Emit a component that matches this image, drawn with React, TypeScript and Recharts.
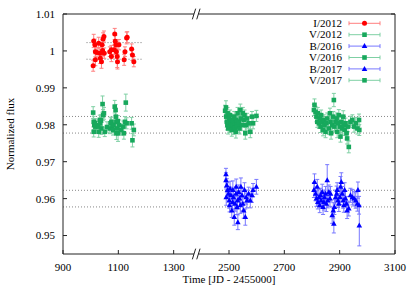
import React from "react";
import { ScatterChart, Scatter, XAxis, YAxis, ErrorBar, ReferenceLine } from "recharts";

// [JD - 2455000, normalized flux, error]
type Obs = [number, number, number];

const I2012: Obs[] = [
  [1009, 0.996, 0.0015], [1011, 1.0027, 0.0018], [1015, 1.0017, 0.0015], [1017, 0.9998, 0.0014],
  [1017, 0.9976, 0.0016], [1023, 0.9996, 0.0013], [1029, 1.0021, 0.0016], [1033, 0.9994, 0.0015],
  [1035, 0.998, 0.0014], [1039, 0.9971, 0.0018], [1041, 1.0017, 0.0013], [1043, 1.0001, 0.0015],
  [1045, 1.0032, 0.0017], [1048, 1.0039, 0.0015], [1049, 0.9994, 0.0014], [1069, 0.9998, 0.0013],
  [1075, 1.0003, 0.0012], [1075, 0.9985, 0.0014], [1085, 1.0003, 0.0013], [1087, 1.0046, 0.0015],
  [1089, 1.0026, 0.0016], [1091, 1.0017, 0.0014], [1093, 0.9998, 0.0018], [1096, 0.9985, 0.003],
  [1097, 0.9971, 0.002], [1102, 1.0017, 0.0014], [1121, 0.9976, 0.0015], [1124, 0.9998, 0.0013],
  [1130, 1.0035, 0.0016], [1132, 1.0037, 0.0015], [1148, 1.0005, 0.0014], [1151, 0.9989, 0.0015],
  [1156, 0.9971, 0.0014],
];

const V2012: Obs[] = [
  [1009, 0.9833, 0.0016], [1011, 0.9808, 0.0015], [1011, 0.9781, 0.0014], [1013, 0.98, 0.0013],
  [1015, 0.9804, 0.0013], [1017, 0.9795, 0.0015], [1021, 0.9799, 0.0014], [1027, 0.9795, 0.0014],
  [1029, 0.9781, 0.0015], [1033, 0.9813, 0.0013], [1035, 0.9804, 0.0014], [1037, 0.9812, 0.0015],
  [1039, 0.979, 0.0016], [1043, 0.9856, 0.0022], [1045, 0.9826, 0.0015], [1048, 0.9831, 0.0016],
  [1051, 0.9781, 0.0013], [1059, 0.9794, 0.0014], [1069, 0.979, 0.0014], [1072, 0.9804, 0.0015],
  [1075, 0.9808, 0.0013], [1079, 0.9795, 0.0016], [1081, 0.9786, 0.0014], [1083, 0.98, 0.0013],
  [1087, 0.9849, 0.0017], [1090, 0.984, 0.0015], [1091, 0.9822, 0.0014], [1093, 0.9808, 0.0013],
  [1093, 0.9777, 0.0017], [1096, 0.979, 0.0015], [1098, 0.981, 0.0015], [1099, 0.9777, 0.0022],
  [1103, 0.9799, 0.0014], [1110, 0.9786, 0.0014], [1118, 0.9795, 0.0015], [1120, 0.9777, 0.0016],
  [1124, 0.9808, 0.0014], [1127, 0.986, 0.0023], [1130, 0.9804, 0.0015], [1148, 0.9804, 0.0016],
  [1151, 0.9758, 0.0018], [1156, 0.9786, 0.0016],
];

const B2016: Obs[] = [
  [2489, 0.9666, 0.0016], [2489, 0.965, 0.002], [2490, 0.9604, 0.0022], [2492, 0.9636, 0.0018],
  [2495, 0.9623, 0.002], [2498, 0.9613, 0.0019], [2501, 0.9595, 0.0021], [2502, 0.9582, 0.0018],
  [2504, 0.9627, 0.002], [2507, 0.9609, 0.0022], [2510, 0.9568, 0.0019], [2513, 0.9591, 0.002],
  [2514, 0.9623, 0.0025], [2516, 0.9604, 0.0021], [2519, 0.955, 0.0022], [2522, 0.9586, 0.002],
  [2525, 0.9613, 0.0019], [2526, 0.9632, 0.0021], [2529, 0.9577, 0.002], [2531, 0.9595, 0.0024],
  [2532, 0.9536, 0.002], [2535, 0.9618, 0.0019], [2538, 0.96, 0.0021], [2541, 0.9582, 0.0022],
  [2543, 0.9632, 0.0024], [2547, 0.9609, 0.002], [2550, 0.9586, 0.0019], [2553, 0.9568, 0.0021],
  [2556, 0.9623, 0.002], [2559, 0.955, 0.0022], [2562, 0.9604, 0.0019], [2565, 0.9595, 0.002],
  [2571, 0.9613, 0.0018], [2577, 0.9595, 0.002], [2583, 0.9609, 0.0019], [2587, 0.9623, 0.0018],
  [2599, 0.9632, 0.002],
];

const V2016: Obs[] = [
  [2486, 0.9838, 0.0015], [2489, 0.9847, 0.0018], [2490, 0.9822, 0.0014], [2492, 0.9808, 0.0015],
  [2494, 0.98, 0.0014], [2495, 0.9831, 0.0016], [2497, 0.979, 0.0015], [2498, 0.9804, 0.0014],
  [2501, 0.9817, 0.0015], [2502, 0.9795, 0.0016], [2504, 0.9826, 0.0014], [2506, 0.9796, 0.0014],
  [2507, 0.9808, 0.0015], [2510, 0.9786, 0.0017], [2511, 0.9802, 0.0015], [2513, 0.9813, 0.0014],
  [2514, 0.9799, 0.0015], [2516, 0.979, 0.0016], [2517, 0.981, 0.0014], [2519, 0.9822, 0.0014],
  [2521, 0.9792, 0.0016], [2522, 0.9804, 0.0015], [2525, 0.9781, 0.0017], [2526, 0.9813, 0.0014],
  [2528, 0.9808, 0.0015], [2529, 0.9795, 0.0015], [2531, 0.9831, 0.0016], [2533, 0.98, 0.0014],
  [2535, 0.9808, 0.0014], [2538, 0.979, 0.0015], [2541, 0.984, 0.0016], [2543, 0.9817, 0.0014],
  [2547, 0.9799, 0.0015], [2550, 0.9831, 0.0016], [2553, 0.9813, 0.0015], [2556, 0.9826, 0.0014],
  [2559, 0.9777, 0.0016], [2562, 0.9799, 0.0015], [2565, 0.9817, 0.0014], [2571, 0.9804, 0.0015],
  [2577, 0.9781, 0.0016], [2583, 0.9822, 0.0014], [2587, 0.9804, 0.0015], [2599, 0.9824, 0.0015],
];

const B2017: Obs[] = [
  [2807, 0.9623, 0.002], [2809, 0.9645, 0.0022], [2813, 0.9613, 0.0019], [2816, 0.96, 0.0021],
  [2819, 0.9632, 0.002], [2821, 0.9591, 0.0019], [2825, 0.9604, 0.0021], [2828, 0.9582, 0.002],
  [2831, 0.9609, 0.0019], [2833, 0.9595, 0.002], [2837, 0.9618, 0.0021], [2840, 0.9577, 0.002],
  [2843, 0.9591, 0.0022], [2845, 0.9604, 0.0019], [2849, 0.9613, 0.002], [2852, 0.9586, 0.0021],
  [2855, 0.965, 0.0042], [2857, 0.9595, 0.002], [2861, 0.9618, 0.0019], [2865, 0.96, 0.0021],
  [2867, 0.9613, 0.002], [2873, 0.9555, 0.0022], [2877, 0.9568, 0.0021], [2879, 0.9532, 0.0025],
  [2881, 0.9577, 0.002], [2885, 0.9604, 0.0019], [2889, 0.9613, 0.0021], [2891, 0.9623, 0.002],
  [2894, 0.9595, 0.0019], [2897, 0.9586, 0.0021], [2901, 0.9604, 0.002], [2903, 0.9632, 0.0028],
  [2906, 0.9645, 0.0025], [2909, 0.9613, 0.002], [2913, 0.9595, 0.0021], [2915, 0.9582, 0.0019],
  [2918, 0.9623, 0.002], [2921, 0.96, 0.0021], [2925, 0.9586, 0.002], [2927, 0.9568, 0.0022],
  [2933, 0.9573, 0.002], [2939, 0.9609, 0.0019], [2946, 0.9604, 0.0021], [2952, 0.96, 0.002],
  [2958, 0.9595, 0.0021], [2964, 0.9586, 0.002], [2966, 0.9623, 0.0022], [2970, 0.9582, 0.0024],
  [2971, 0.9527, 0.0055],
];

const V2017: Obs[] = [
  [2807, 0.984, 0.0015], [2809, 0.9854, 0.0016], [2813, 0.9835, 0.0015], [2816, 0.9822, 0.0014],
  [2819, 0.9808, 0.0015], [2821, 0.9831, 0.0016], [2825, 0.9804, 0.0014], [2828, 0.9817, 0.0015],
  [2831, 0.9795, 0.0016], [2833, 0.9826, 0.0014], [2837, 0.9808, 0.0015], [2840, 0.9786, 0.0016],
  [2843, 0.9813, 0.0014], [2845, 0.9799, 0.0015], [2849, 0.9781, 0.0016], [2852, 0.9804, 0.0014],
  [2855, 0.9817, 0.0015], [2861, 0.979, 0.0016], [2865, 0.9831, 0.0014], [2867, 0.9808, 0.0015],
  [2869, 0.9777, 0.0016], [2873, 0.9799, 0.0015], [2877, 0.9822, 0.0014], [2879, 0.9867, 0.0018],
  [2881, 0.9795, 0.0015], [2885, 0.9808, 0.0014], [2889, 0.9817, 0.0015], [2891, 0.9781, 0.0016],
  [2894, 0.9804, 0.0014], [2897, 0.9826, 0.0015], [2901, 0.9795, 0.0016], [2903, 0.9768, 0.0015],
  [2906, 0.9808, 0.0014], [2909, 0.979, 0.0015], [2913, 0.9822, 0.0016], [2915, 0.9799, 0.0014],
  [2918, 0.9786, 0.0015], [2921, 0.9804, 0.0014], [2925, 0.9777, 0.0016], [2927, 0.9763, 0.0015],
  [2930, 0.9795, 0.0014], [2933, 0.974, 0.0016], [2939, 0.9808, 0.0015], [2946, 0.9813, 0.0014],
  [2952, 0.9795, 0.0015], [2958, 0.9804, 0.0016], [2964, 0.979, 0.0015], [2970, 0.9813, 0.0016],
  [2971, 0.9786, 0.0015],
];

const X_TICKS = [900, 1100, 1300, 2500, 2700, 2900, 3100];
const Y_TICKS = [0.95, 0.96, 0.97, 0.98, 0.99, 1.0, 1.01];
// dotted reference levels
const I_LEVELS = [1.00225, 0.99775];
const V_LEVELS = [0.98225, 0.97775];
const B_LEVELS = [0.96225, 0.95775];

// broken x axis: everything after the break is shifted left by GAP
const BREAK = 1400;
const GAP = 1000;
const toAxis = (jd: number) => (jd > BREAK ? jd - GAP : jd);
const fromAxis = (v: number) => (v > BREAK ? v + GAP : v);

const Y_MIN = 0.945;
const Y_MAX = 1.01;

const SERIES = [
  { name: "I/2012", data: I2012, color: "#ff0000", bar: "#ff7f7f", kind: "circle" },
  { name: "V/2012", data: V2012, color: "#17a85c", bar: "#7fd0a4", kind: "square" },
  { name: "B/2016", data: B2016, color: "#0000ff", bar: "#7878ff", kind: "triangle" },
  { name: "V/2016", data: V2016, color: "#17a85c", bar: "#7fd0a4", kind: "square" },
  { name: "B/2017", data: B2017, color: "#0000ff", bar: "#7878ff", kind: "triangle" },
  { name: "V/2017", data: V2017, color: "#17a85c", bar: "#7fd0a4", kind: "square" },
];

const AXIS = "#222";
const FONT = "Liberation Serif, Times New Roman, Tinos, DejaVu Serif, serif";
const TEXT = { fontSize: 11, fill: "#000", fontFamily: FONT };

function Marker({ kind, x, y, color }: { kind: string; x: number; y: number; color: string }) {
  if (kind === "circle") return <circle cx={x} cy={y} r={2.5} fill={color} />;
  if (kind === "square") return <rect x={x - 2.3} y={y - 2.3} width={4.6} height={4.6} fill={color} />;
  return <polygon points={`${x},${y - 3} ${x + 2.8},${y + 2} ${x - 2.8},${y + 2}`} fill={color} />;
}

function LegendBox() {
  return (
    <svg width={415} height={291} style={{ position: "absolute", left: 0, top: 0, pointerEvents: "none" }}>
      {SERIES.map((s, i) => {
        const y = 23.3 + i * 11.4;
        return (
          <g key={s.name}>
            <text x={342} y={y + 3.6} textAnchor="end" style={TEXT}>
              {s.name}
            </text>
            <line x1={349} x2={380} y1={y} y2={y} stroke={s.bar} />
            <line x1={349} x2={349} y1={y - 2} y2={y + 2} stroke={s.bar} />
            <line x1={380} x2={380} y1={y - 2} y2={y + 2} stroke={s.bar} />
            <Marker kind={s.kind} x={364.5} y={y} color={s.color} />
          </g>
        );
      })}
    </svg>
  );
}

export default function App() {
  const xDomain = [toAxis(900), toAxis(3100)];
  const slashL = 1373.5;
  const slashR = 1389.4;
  const d = 0.00145;

  return (
    <div style={{ position: "absolute", left: 0, top: 0, width: 415, height: 291, fontFamily: FONT }}>
      <ScatterChart width={415} height={291} margin={{ top: 13, right: 19, bottom: 0, left: 8 }}>
        <XAxis
          type="number"
          dataKey="x"
          domain={xDomain}
          ticks={X_TICKS.map(toAxis)}
          tickFormatter={(v: number) => String(fromAxis(v))}
          allowDataOverflow
          height={37}
          axisLine={false}
          tickSize={-4}
          tickMargin={13}
          tickLine={{ stroke: AXIS }}
          tick={TEXT}
          label={{ value: "Time [JD - 2455000]", position: "insideBottom", offset: 8, style: TEXT }}
        />
        <XAxis
          xAxisId="top"
          orientation="top"
          type="number"
          domain={xDomain}
          ticks={X_TICKS.map(toAxis)}
          tickFormatter={() => ""}
          allowDataOverflow
          height={1}
          axisLine={false}
          tickSize={-4}
          tickLine={{ stroke: AXIS }}
        />
        <YAxis
          type="number"
          dataKey="y"
          domain={[Y_MIN, Y_MAX]}
          ticks={Y_TICKS}
          tickFormatter={(v: number) => String(+v.toFixed(2))}
          allowDataOverflow
          width={55}
          axisLine={{ stroke: AXIS }}
          tickSize={-4}
          tickMargin={12}
          tickLine={{ stroke: AXIS }}
          tick={TEXT}
          label={{
            value: "Normalized flux",
            angle: -90,
            position: "insideLeft",
            offset: 2,
            style: { ...TEXT, textAnchor: "middle" },
          }}
        />
        <YAxis
          yAxisId="right"
          orientation="right"
          type="number"
          domain={[Y_MIN, Y_MAX]}
          ticks={Y_TICKS}
          tickFormatter={() => ""}
          allowDataOverflow
          width={1}
          axisLine={{ stroke: AXIS }}
          tickSize={-4}
          tickLine={{ stroke: AXIS }}
        />

        {I_LEVELS.map((v) => (
          <ReferenceLine
            key={"i" + v}
            segment={[{ x: 985, y: v }, { x: 1189, y: v }]}
            stroke="#777"
            strokeDasharray="1 2"
          />
        ))}
        {[...V_LEVELS, ...B_LEVELS].map((v) => (
          <ReferenceLine key={"l" + v} y={v} stroke="#888" strokeDasharray="1 2" />
        ))}

        {[Y_MIN, Y_MAX].map((v) => (
          <React.Fragment key={"ax" + v}>
            <ReferenceLine segment={[{ x: xDomain[0], y: v }, { x: slashL, y: v }]} stroke={AXIS} ifOverflow="visible" />
            <ReferenceLine segment={[{ x: slashR, y: v }, { x: xDomain[1], y: v }]} stroke={AXIS} ifOverflow="visible" />
            <ReferenceLine
              segment={[{ x: slashL - 6, y: v - d }, { x: slashL + 6, y: v + d }]}
              stroke={AXIS}
              ifOverflow="visible"
            />
            <ReferenceLine
              segment={[{ x: slashR - 6, y: v - d }, { x: slashR + 6, y: v + d }]}
              stroke={AXIS}
              ifOverflow="visible"
            />
          </React.Fragment>
        ))}

        {SERIES.map((s) => (
          <Scatter
            key={s.name}
            name={s.name}
            data={s.data.map(([jd, flux, err]) => ({ x: toAxis(jd), y: flux, err }))}
            isAnimationActive={false}
            shape={(p: any) => <Marker kind={s.kind} x={p.cx} y={p.cy} color={s.color} />}
          >
            <ErrorBar dataKey="err" direction="y" width={2} stroke={s.bar} strokeWidth={1} />
          </Scatter>
        ))}
      </ScatterChart>
      <LegendBox />
    </div>
  );
}
